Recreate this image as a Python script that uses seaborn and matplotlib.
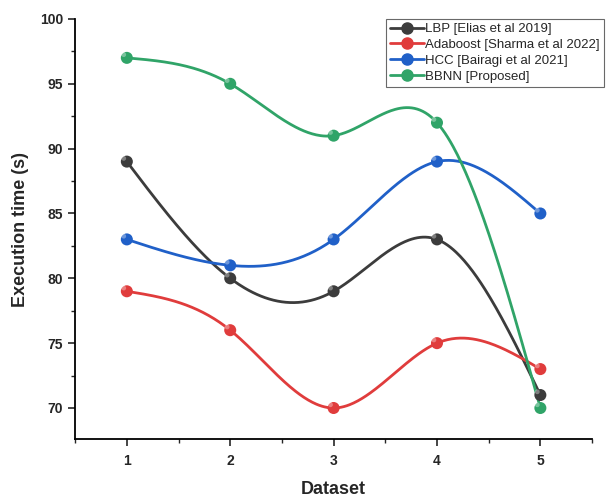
import numpy as np
import pandas as pd
import matplotlib
matplotlib.use("Agg")
import matplotlib.pyplot as plt
import seaborn as sns
from matplotlib.ticker import MultipleLocator
from matplotlib.lines import Line2D

datasets = [1, 2, 3, 4, 5]
lbp = [89, 80, 79, 83, 71]
adaboost = [79, 76, 70, 75, 73]
hcc = [83, 81, 83, 89, 85]
bbnn = [97, 95, 91, 92, 70]
series_names = ["LBP [Elias et al 2019]", "Adaboost [Sharma et al 2022]",
                "HCC [Bairagi et al 2021]", "BBNN [Proposed]"]
colors = ["#3c3c3c", "#e03c3c", "#2060c8", "#30a468"]


def natural_spline(x, y, xs):
    x = np.asarray(x, float); y = np.asarray(y, float)
    n = len(x)
    h = np.diff(x)
    A = np.zeros((n, n)); b = np.zeros(n)
    A[0, 0] = 1; A[-1, -1] = 1
    for i in range(1, n - 1):
        A[i, i - 1] = h[i - 1]
        A[i, i] = 2 * (h[i - 1] + h[i])
        A[i, i + 1] = h[i]
        b[i] = 3 * ((y[i + 1] - y[i]) / h[i] - (y[i] - y[i - 1]) / h[i - 1])
    c = np.linalg.solve(A, b)
    out = np.empty_like(xs)
    for k, xv in enumerate(xs):
        i = min(max(np.searchsorted(x, xv) - 1, 0), n - 2)
        dx = xv - x[i]
        bi = (y[i + 1] - y[i]) / h[i] - h[i] * (2 * c[i] + c[i + 1]) / 3
        di = (c[i + 1] - c[i]) / (3 * h[i])
        out[k] = y[i] + bi * dx + c[i] * dx ** 2 + di * dx ** 3
    return out


sns.set_style("white")
plt.rcParams['font.family'] = ['Liberation Sans', 'DejaVu Sans']

fig = plt.figure(figsize=(6.06, 4.99), dpi=100)
ax = fig.add_axes([0.124, 0.12, 0.853, 0.842])

xs = np.linspace(1, 5, 300)
rows_s, rows_p = [], []
for name, vals in zip(series_names, [lbp, adaboost, hcc, bbnn]):
    ys = natural_spline(datasets, vals, xs)
    rows_s.append(pd.DataFrame({"Dataset": xs, "Time": ys, "Method": name}))
    rows_p.append(pd.DataFrame({"Dataset": datasets, "Time": vals, "Method": name}))
smooth = pd.concat(rows_s)
pts = pd.concat(rows_p)
palette = dict(zip(series_names, colors))

sns.lineplot(data=smooth, x="Dataset", y="Time", hue="Method", palette=palette,
             linewidth=2, ax=ax, legend=False, sort=False)
sns.scatterplot(data=pts, x="Dataset", y="Time", hue="Method", palette=palette,
                s=75, edgecolor="none", ax=ax, legend=False, zorder=5)
for name, vals in zip(series_names, [lbp, adaboost, hcc, bbnn]):
    ax.scatter(np.array(datasets) - 0.03, np.array(vals) + 0.25, s=12,
               color="white", alpha=0.35, edgecolor="none", zorder=6)

handles = [Line2D([0], [0], color=c, lw=2, marker="o", markersize=8) for c in colors]
leg = ax.legend(handles, series_names, loc="upper left", bbox_to_anchor=(0.601, 1.0),
                borderaxespad=0, frameon=True, fontsize=9.5, handlelength=2.6,
                handletextpad=0.1, borderpad=0.3, labelspacing=0.28, fancybox=False)
leg.get_frame().set_edgecolor("#444444")
leg.get_frame().set_linewidth(0.8)

ax.set_xlim(0.5, 5.5)
ax.set_ylim(67.6, 100)
ax.set_xticks(datasets)
ax.set_yticks([70, 75, 80, 85, 90, 95, 100])
ax.xaxis.set_minor_locator(MultipleLocator(0.5))
ax.yaxis.set_minor_locator(MultipleLocator(2.5))
ax.tick_params(axis="both", which="major", direction="out", length=5, width=1.2,
               labelsize=10, bottom=True, left=True)
ax.tick_params(axis="x", which="major", pad=6)
ax.tick_params(axis="both", which="minor", direction="out", length=3, width=1.0,
               bottom=True, left=True)
for lab in ax.get_xticklabels() + ax.get_yticklabels():
    lab.set_fontweight("bold")
ax.set_xlabel("Dataset", fontsize=13, fontweight="bold", labelpad=9)
ax.set_ylabel("Execution time (s)", fontsize=13, fontweight="bold", labelpad=8)
for s in ["top", "right"]:
    ax.spines[s].set_visible(False)
for s in ["left", "bottom"]:
    ax.spines[s].set_color("black")
    ax.spines[s].set_linewidth(1.3)

fig.savefig("out.png", dpi=100, facecolor="white")
